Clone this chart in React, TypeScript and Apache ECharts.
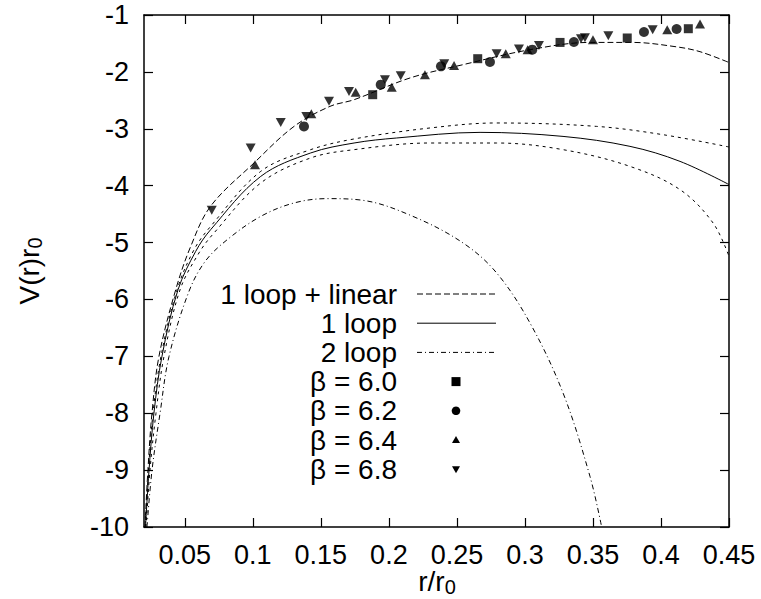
import React, { useEffect, useRef } from "react";
import * as echarts from "echarts";

const xTicks = [0.05, 0.1, 0.15, 0.2, 0.25, 0.3, 0.35, 0.4, 0.45];

const oneLoopLinear = [
  [0.0207, -10], [0.0229, -8.99], [0.0259, -7.99], [0.031, -7.0], [0.0433, -5.83],
  [0.0543, -5.07], [0.069, -4.36], [0.1009, -3.6], [0.1303, -2.958], [0.1567, -2.606],
  [0.1744, -2.489], [0.2155, -2.107], [0.2545, -1.873], [0.3037, -1.61], [0.348, -1.482],
  [0.379, -1.482], [0.4115, -1.56], [0.4287, -1.645], [0.45, -1.835],
];

const oneLoop = [
  [0.0211, -10], [0.0237, -9.0], [0.0273, -8.0], [0.0332, -7.0], [0.045, -5.83],
  [0.058, -5.155], [0.069, -4.773], [0.1058, -3.837], [0.1425, -3.425], [0.1744, -3.25],
  [0.2057, -3.162], [0.267, -3.063], [0.328, -3.134], [0.3772, -3.309], [0.414, -3.573],
  [0.45, -3.98],
];

const oneLoopUpper = [
  [0.0209, -10], [0.0233, -9.0], [0.0266, -8.0], [0.0325, -7.0], [0.0443, -5.83],
  [0.0568, -5.125], [0.069, -4.715], [0.1058, -3.749], [0.1425, -3.367], [0.1744, -3.179],
  [0.2302, -2.986], [0.2792, -2.898], [0.3527, -2.958], [0.4015, -3.104], [0.45, -3.32],
];

const oneLoopLower = [
  [0.0215, -10], [0.0244, -9.0], [0.0288, -8.0], [0.0347, -7.0], [0.0465, -5.83],
  [0.0604, -5.183], [0.0715, -4.83], [0.1058, -3.953], [0.1425, -3.513], [0.1744, -3.367],
  [0.2302, -3.25], [0.2792, -3.25], [0.328, -3.367], [0.3772, -3.661], [0.414, -4.07],
  [0.4383, -4.656], [0.45, -5.243],
];

const twoLoop = [
  [0.0222, -10], [0.0259, -9.0], [0.0318, -8.0], [0.0384, -7.0], [0.0527, -5.88],
  [0.0648, -5.336], [0.0812, -4.949], [0.1058, -4.54], [0.1303, -4.304], [0.1547, -4.228],
  [0.181, -4.258], [0.2177, -4.54], [0.2545, -5.007], [0.2792, -5.534], [0.3037, -6.413],
  [0.328, -7.643], [0.3478, -9.109], [0.3564, -10],
];

const beta60 = [
  [0.1881, -2.401], [0.2653, -1.768], [0.3258, -1.482], [0.3752, -1.404], [0.4201, -1.241],
];

const beta62 = [
  [0.1376, -2.958], [0.194, -2.225], [0.2383, -1.903], [0.2743, -1.826], [0.3054, -1.61],
  [0.336, -1.475], [0.3875, -1.299], [0.4115, -1.246],
];

const beta64 = [
  [0.1016, -3.631], [0.143, -2.735], [0.1756, -2.36], [0.2021, -2.272], [0.2265, -2.049],
  [0.2479, -1.886], [0.2859, -1.68], [0.302, -1.61], [0.35, -1.434], [0.4046, -1.258],
  [0.4287, -1.158],
];

const beta68 = [
  [0.0698, -4.434], [0.0984, -3.337], [0.1205, -2.888], [0.1393, -2.782], [0.156, -2.518],
  [0.1707, -2.343], [0.1971, -2.137], [0.2087, -2.067], [0.2407, -1.856], [0.2792, -1.68],
  [0.2956, -1.598], [0.3103, -1.534], [0.3412, -1.417], [0.3441, -1.4], [0.3613, -1.364],
  [0.3939, -1.258],
];

const legendLabels = ["1 loop + linear", "1 loop", "2 loop", "β = 6.0", "β = 6.2", "β = 6.4", "β = 6.8"];

const FONT = '"Liberation Sans", Arial, Helvetica, sans-serif';
const DASH = [6, 3];
const DOT = [3, 4];
const DASHDOT = [5, 3, 1, 3];

export default function App() {
  const ref = useRef<HTMLDivElement>(null);
  useEffect(() => {
    if (!ref.current) return;
    const chart = echarts.init(ref.current, undefined, { renderer: "svg" });

    const axisLine = { show: true, onZero: false, lineStyle: { color: "#000", width: 1.5 } };
    const tick = { show: true, inside: true, length: 9, lineStyle: { color: "#000", width: 1.2 } };
    const lineSeries = (name: string, data: number[][], type: any) => ({
      name,
      type: "line",
      data,
      smooth: 0.35,
      symbol: "none",
      showSymbol: false,
      lineStyle: { color: "#000", width: 1, type },
      z: 2,
    });
    const scatter = (name: string, data: number[][], symbol: string, size: any, rotate = 0) => ({
      name,
      type: "scatter",
      data,
      symbol,
      symbolSize: size,
      symbolRotate: rotate,
      itemStyle: { color: "#000" },
      z: 3,
    });

    const rowY = (i: number) => 294 + i * 29.2;
    const textX = 397;
    const graphics: any[] = [];
    legendLabels.forEach((lab, i) => {
      graphics.push({
        type: "text",
        x: textX,
        y: rowY(i),
        style: {
          text: lab,
          font: `28px ${FONT}`,
          fill: "#000",
          textAlign: "right",
          textVerticalAlign: "middle",
          align: "right",
          verticalAlign: "middle",
        },
      });
    });
    const dashes = [DASH, null, DASHDOT];
    dashes.forEach((d, i) => {
      graphics.push({
        type: "line",
        shape: { x1: 417, y1: rowY(i), x2: 496, y2: rowY(i) },
        style: { stroke: "#000", lineWidth: 1, lineDash: d || undefined },
      });
    });
    const mx = 456;
    graphics.push({ type: "rect", shape: { x: mx - 4.5, y: rowY(3) - 4.5, width: 9, height: 9 }, style: { fill: "#000" } });
    graphics.push({ type: "circle", shape: { cx: mx, cy: rowY(4), r: 4.3 }, style: { fill: "#000" } });
    graphics.push({
      type: "polygon",
      shape: { points: [[mx - 4, rowY(5) + 3], [mx + 4, rowY(5) + 3], [mx, rowY(5) - 4]] },
      style: { fill: "#000" },
    });
    graphics.push({
      type: "polygon",
      shape: { points: [[mx - 4, rowY(6) - 3], [mx + 4, rowY(6) - 3], [mx, rowY(6) + 4]] },
      style: { fill: "#000" },
    });
    // axis titles
    graphics.push({
      type: "text",
      x: 437,
      y: 582,
      style: {
        text: "{m|r/r}{s|0}",
        fill: "#000",
        textAlign: "center",
        textVerticalAlign: "middle",
        align: "center",
        verticalAlign: "middle",
        rich: {
          m: { fontSize: 28, fontFamily: FONT, lineHeight: 30, verticalAlign: "top", fill: "#000" },
          s: { fontSize: 20, fontFamily: FONT, lineHeight: 20, verticalAlign: "bottom", padding: [18, 0, 0, 0], fill: "#000" },
        },
      },
    });
    graphics.push({
      type: "text",
      x: 30,
      y: 271,
      rotation: Math.PI / 2,
      style: {
        text: "{m|V(r)r}{s|0}",
        fill: "#000",
        textAlign: "center",
        textVerticalAlign: "middle",
        align: "center",
        verticalAlign: "middle",
        rich: {
          m: { fontSize: 28, fontFamily: FONT, lineHeight: 30, verticalAlign: "top", fill: "#000" },
          s: { fontSize: 20, fontFamily: FONT, lineHeight: 20, verticalAlign: "bottom", padding: [18, 0, 0, 0], fill: "#000" },
        },
      },
    });

    chart.setOption({
      animation: false,
      backgroundColor: "#fff",
      textStyle: { fontFamily: FONT },
      grid: { left: 144, right: 32, top: 15, bottom: 72, containLabel: false, outerBoundsMode: "none" },
      xAxis: [
        {
          type: "value",
          position: "bottom",
          min: 0.02,
          max: 0.45,
          axisLine,
          axisTick: { ...tick, customValues: xTicks },
          axisLabel: {
            customValues: xTicks,
            formatter: (v: number) => String(v),
            fontSize: 27,
            color: "#000",
            fontFamily: FONT,
            margin: 14,
          },
          splitLine: { show: false },
        },
        {
          type: "value",
          position: "top",
          min: 0.02,
          max: 0.45,
          axisLine,
          axisTick: { ...tick, customValues: xTicks },
          axisLabel: { show: false },
          splitLine: { show: false },
        },
      ],
      yAxis: [
        {
          type: "value",
          position: "left",
          min: -10,
          max: -1,
          interval: 1,
          axisLine,
          axisTick: tick,
          axisLabel: { fontSize: 27, color: "#000", fontFamily: FONT, margin: 15 },
          splitLine: { show: false },
        },
        {
          type: "value",
          position: "right",
          min: -10,
          max: -1,
          interval: 1,
          axisLine,
          axisTick: tick,
          axisLabel: { show: false },
          splitLine: { show: false },
        },
      ],
      graphic: graphics,
      series: [
        lineSeries("1 loop + linear", oneLoopLinear, DASH),
        lineSeries("1 loop", oneLoop, "solid"),
        lineSeries("1 loop upper", oneLoopUpper, DOT),
        lineSeries("1 loop lower", oneLoopLower, DOT),
        lineSeries("2 loop", twoLoop, DASHDOT),
        scatter("β = 6.0", beta60, "rect", 9),
        scatter("β = 6.2", beta62, "circle", 10),
        scatter("β = 6.4", beta64, "triangle", [10, 9]),
        scatter("β = 6.8", beta68, "triangle", [10, 9], 180),
      ],
    });
    return () => chart.dispose();
  }, []);

  return (
    <div
      ref={ref}
      style={{ position: "fixed", left: 0, top: 0, width: 761, height: 599, background: "#fff" }}
    />
  );
}
